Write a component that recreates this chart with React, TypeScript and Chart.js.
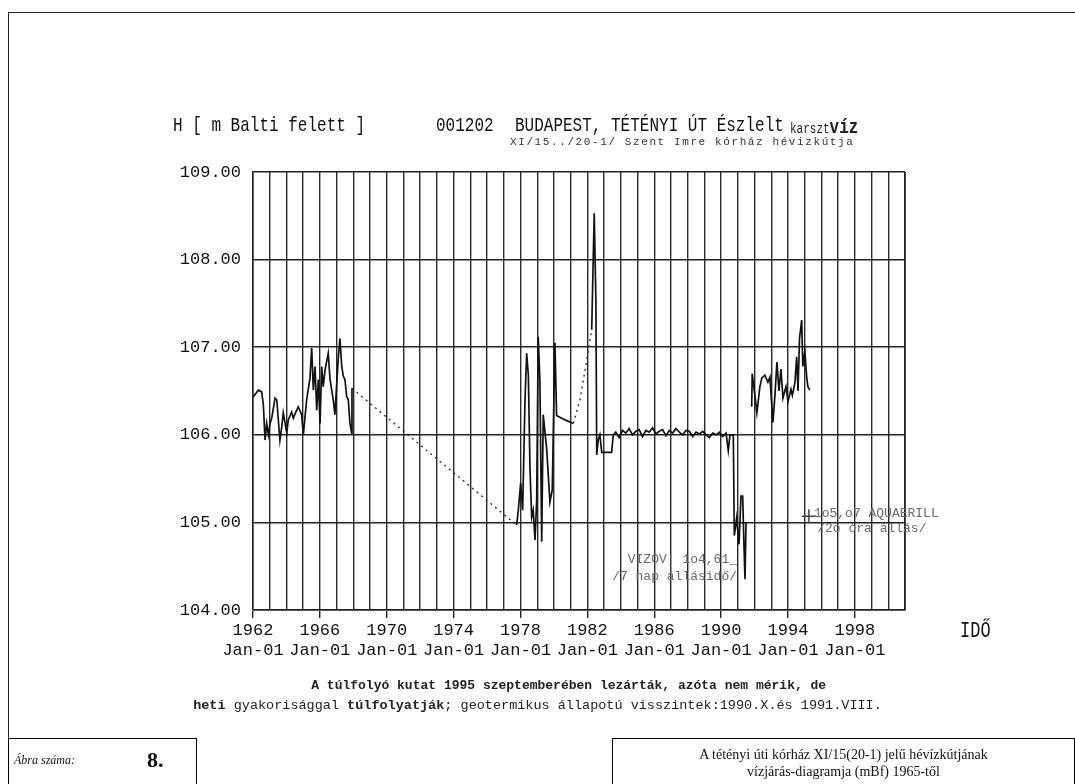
import React, { useEffect, useRef } from "react";
import { Chart, registerables } from "chart.js";

Chart.register(...registerables);

// ---- data ----
const measuredYears: (number | null)[] = [
  1962.0, 1962.32, 1962.52, 1962.62, 1962.72, 1962.82, 1962.92, 1963.02, 1963.12, 1963.32,
  1963.42, 1963.61, 1963.72, 1963.81, 1964.02, 1964.11, 1964.31, 1964.41, 1964.61, 1964.71,
  1964.91, 1965.01, 1965.21, 1965.41, 1965.51, 1965.61, 1965.71, 1965.81, 1965.91, 1966.01,
  1966.11, 1966.2, 1966.31, 1966.5, 1966.61, 1966.8, 1966.9, 1967.01, 1967.1, 1967.2,
  1967.31, 1967.4, 1967.5, 1967.6, 1967.7, 1967.8, 1967.9, 1967.92,
  null,
  1977.77, 1977.87, 1978.01, 1978.13, 1978.27, 1978.37, 1978.47, 1978.57, 1978.67, 1978.76,
  1978.87, 1978.97, 1979.06, 1979.16, 1979.27, 1979.36, 1979.57, 1979.76, 1979.9, 1980.06,
  1980.16, 1980.66, 1981.16,
  null,
  1982.26, 1982.41, 1982.51, 1982.56, 1982.65, 1982.75, 1982.86, 1983.45, 1983.55,
  1983.7, 1983.9, 1984.1, 1984.3, 1984.5, 1984.7, 1984.9, 1985.1, 1985.3, 1985.5,
  1985.7, 1985.9, 1986.1, 1986.3, 1986.5, 1986.7, 1986.9, 1987.1, 1987.3, 1987.5,
  1987.7, 1987.9, 1988.1, 1988.3, 1988.5, 1988.7, 1988.9, 1989.1, 1989.3, 1989.5,
  1989.7, 1989.9, 1990.1, 1990.3, 1990.43, 1990.53, 1990.73, 1990.79, 1990.93, 1991.07,
  1991.19, 1991.29, 1991.37, 1991.43, 1991.49,
  null,
  1991.83, 1991.86, 1992.02, 1992.14, 1992.32, 1992.44, 1992.62, 1992.8, 1992.92, 1993.1,
  1993.22, 1993.34, 1993.46, 1993.58, 1993.7, 1993.88, 1994.0, 1994.18, 1994.26, 1994.42,
  1994.52, 1994.6, 1994.69, 1994.82, 1994.89, 1995.01, 1995.12, 1995.19, 1995.31,
];

const measuredLevels: (number | null)[] = [
  106.43, 106.51, 106.49, 106.34, 105.94, 106.13, 106.0, 106.13, 106.19, 106.42,
  106.4, 105.94, 106.09, 106.25, 106.02, 106.17, 106.26, 106.19, 106.28, 106.32,
  106.23, 106.0, 106.4, 106.65, 106.99, 106.51, 106.78, 106.28, 106.63, 106.13,
  106.78, 106.55, 106.74, 106.93, 106.63, 106.4, 106.23, 106.59, 106.87, 107.1,
  106.78, 106.67, 106.63, 106.44, 106.4, 106.13, 106.02, 106.53,
  null,
  104.97, 105.14, 105.45, 105.14, 106.4, 106.93, 106.68, 105.6, 105.06, 105.14,
  104.8, 105.26, 107.12, 106.63, 104.78, 106.23, 105.83, 105.23, 105.37, 107.05,
  106.22, 106.17, 106.13,
  null,
  107.2, 108.53, 107.54, 105.77, 105.94, 106.0, 105.8, 105.8, 106.0,
  106.03, 105.97, 106.05, 106.02, 106.07, 106.0, 106.04, 106.06, 105.98, 106.05,
  106.03, 106.08, 106.01, 106.04, 106.06, 105.99, 106.05, 106.02, 106.07, 106.03,
  106.0, 106.05, 106.04, 105.98, 106.03, 106.01, 106.04, 106.0, 105.97, 106.02,
  106.0, 106.03, 105.98, 106.02, 105.82, 106.0, 106.0, 104.85, 105.05, 104.75,
  105.3, 105.3, 104.72, 104.35, 105.0,
  null,
  106.32, 106.7, 106.45, 106.25, 106.55, 106.65, 106.68, 106.6, 106.66, 106.14,
  106.45, 106.83, 106.5, 106.75, 106.42, 106.55, 106.38, 106.52, 106.45, 106.6,
  106.89, 106.5, 107.1, 107.31, 106.78, 106.95, 106.66, 106.55, 106.51,
];

// interpolated (dotted) connections across the missing periods
const dottedYears: (number | null)[] = [1967.92, 1977.77, null, 1981.16, 1981.56, 1981.96, 1982.26];
const dottedLevels: (number | null)[] = [106.53, 104.97, null, 106.13, 106.4, 106.85, 107.2];

// marked point (AQUAERILL measurement)
const markYears = [1995.25];
const markLevels = [105.07];

// axis
const yearMin = 1962;
const yearMax = 2001;
const labelStart = 1962;
const labelEnd = 1998;
const labelEvery = 4;
const levelMin = 104;
const levelMax = 109;
const dateSubLabel = "Jan-01";

// in-plot notes (anchored in data coordinates)
const noteTexts = ["VIZOV: 1o4,61_", "/7 nap állásidő/", "1o5,o7 AQUAERILL", "/2o óra állás/"];
const noteYears = [1990.95, 1990.95, 1995.55, 1995.75];
const noteLevels = [104.58, 104.38, 105.1, 104.93];
const noteAlign: CanvasTextAlign[] = ["right", "right", "left", "left"];

const MONO = '"Liberation Mono", "DejaVu Sans Mono", monospace';

const toPoints = (xs: (number | null)[], ys: (number | null)[]) =>
  xs.map((x, i) => ({ x: x === null ? NaN : x, y: ys[i] === null ? (null as any) : ys[i] }));

const isLabelled = (v: number) =>
  v >= labelStart && v <= labelEnd && Math.round(v - labelStart) % labelEvery === 0;

const framePlugin = {
  id: "frame",
  afterDatasetsDraw(chart: any) {
    const { ctx, chartArea, scales } = chart;
    ctx.save();
    ctx.strokeStyle = "#222";
    ctx.lineWidth = 1.5;
    ctx.beginPath();
    ctx.moveTo(chartArea.right, chartArea.top);
    ctx.lineTo(chartArea.right, chartArea.bottom);
    ctx.stroke();
    ctx.fillStyle = "#6a6a6a";
    ctx.font = `13px ${MONO}`;
    ctx.textBaseline = "middle";
    noteTexts.forEach((t, i) => {
      ctx.textAlign = noteAlign[i];
      ctx.fillText(t, scales.x.getPixelForValue(noteYears[i]), scales.y.getPixelForValue(noteLevels[i]));
    });
    ctx.restore();
  },
};

function HydroChart() {
  const ref = useRef<HTMLCanvasElement | null>(null);
  useEffect(() => {
    if (!ref.current) return;
    const chart = new Chart(ref.current, {
      type: "line",
      data: {
        datasets: [
          {
            label: "Észlelt",
            data: toPoints(measuredYears, measuredLevels) as any,
            borderColor: "#111",
            borderWidth: 1.7,
            pointRadius: 0,
            spanGaps: false,
            tension: 0,
          },
          {
            label: "interpolált",
            data: toPoints(dottedYears, dottedLevels) as any,
            borderColor: "#333",
            borderWidth: 1.4,
            borderDash: [2, 4],
            pointRadius: 0,
            spanGaps: false,
          },
          {
            label: "jel",
            data: toPoints(markYears, markLevels) as any,
            showLine: false,
            pointStyle: "cross",
            pointRadius: 7,
            pointBorderColor: "#444",
            pointBorderWidth: 1.5,
          },
        ],
      },
      options: {
        animation: false,
        responsive: false,
        events: [],
        layout: { padding: { left: 0, top: 172, right: 170, bottom: 0 } },
        plugins: { legend: { display: false }, tooltip: { enabled: false }, title: { display: false } },
        scales: {
          x: {
            type: "linear",
            min: yearMin,
            max: yearMax,
            afterFit: (s: any) => {
              s.height = 174;
            },
            ticks: {
              stepSize: 1,
              autoSkip: false,
              maxRotation: 0,
              minRotation: 0,
              padding: 2,
              color: "#111",
              font: { family: MONO, size: 17, lineHeight: 1.2 },
              callback: (v: any) => (isLabelled(Number(v)) ? [String(v), dateSubLabel] : ""),
            },
            grid: {
              color: "#2a2a2a",
              lineWidth: 1.4,
              tickLength: 8,
              tickColor: (c: any) => (c.tick && isLabelled(c.tick.value) ? "#222" : "rgba(0,0,0,0)"),
            },
            border: { display: true, color: "#555", width: 1 },
          },
          y: {
            type: "linear",
            min: levelMin,
            max: levelMax,
            afterFit: (s: any) => {
              s.width = 253;
            },
            ticks: {
              stepSize: 1,
              padding: 12,
              color: "#111",
              font: { family: MONO, size: 17 },
              callback: (v: any) => Number(v).toFixed(2),
            },
            grid: { color: "#222", lineWidth: 1.5, drawTicks: false },
            border: { display: true, color: "#222", width: 1.5 },
          },
        },
      },
      plugins: [framePlugin],
    });
    return () => chart.destroy();
  }, []);
  return <canvas ref={ref} width={1075} height={784} style={{ position: "absolute", left: 0, top: 0 }} />;
}

export default function App() {
  useEffect(() => {
    document.body.style.margin = "0";
    document.body.style.background = "#fff";
  }, []);
  const abs = (s: React.CSSProperties): React.CSSProperties => ({ position: "absolute", whiteSpace: "pre", ...s });
  const tall: React.CSSProperties = { transform: "scaleY(1.3)", transformOrigin: "left center" };
  return (
    <div style={{ position: "relative", width: 1075, height: 784, overflow: "hidden", background: "#fff" }}>
      {/* page frame */}
      <div style={abs({ left: 8, top: 12, width: 1067, height: 0, borderTop: "1.5px solid #222" })} />
      <div style={abs({ left: 8, top: 12, width: 0, height: 772, borderLeft: "1.5px solid #222" })} />

      <HydroChart />

      {/* heading */}
      <div style={abs({ left: 173, top: 117, font: `16px ${MONO}`, color: "#111", ...tall })}>H [ m Balti felett ]</div>
      <div style={abs({ left: 436, top: 117, font: `16px ${MONO}`, color: "#111", ...tall })}>001202</div>
      <div style={abs({ left: 515, top: 117, font: `16px ${MONO}`, color: "#111", ...tall })}>BUDAPEST, TÉTÉNYI ÚT Észlelt</div>
      <div style={abs({ left: 790, top: 119, font: `11px ${MONO}`, color: "#222", ...tall })}>
        karszt<span style={{ font: `bold 16px ${MONO}` }}>víz</span>
      </div>
      <div style={abs({ left: 510, top: 136, font: `11px ${MONO}`, letterSpacing: "1.6px", color: "#333" })}>
        XI/15../20-1/ Szent Imre kórház hévizkútja
      </div>

      {/* axis title */}
      <div style={abs({ left: 960, top: 622, font: `17px ${MONO}`, color: "#111", ...tall })}>IDŐ</div>

      {/* remarks */}
      <div style={abs({ left: 0, width: 1075, top: 678, textAlign: "center", font: `bold 13px ${MONO}`, color: "#222" })}>
        {"        A túlfolyó kutat 1995 szeptemberében lezárták, azóta nem mérik, de"}
      </div>
      <div style={abs({ left: 0, width: 1075, top: 698, textAlign: "center", font: `13.5px ${MONO}`, color: "#222" })}>
        <b>heti</b> gyakorisággal <b>túlfolyatják</b>; geotermikus állapotú visszintek:1990.X.és 1991.VIII.
      </div>

      {/* title boxes */}
      <div style={abs({ left: 8, top: 738, width: 189, height: 60, border: "1px solid #000", boxSizing: "border-box" })}>
        <span style={abs({ left: 5, top: 14, font: `italic 12px "Liberation Serif", serif`, color: "#111" })}>Ábra száma:</span>
        <span style={abs({ left: 138, top: 8, font: `bold 22px "Liberation Serif", serif`, color: "#111" })}>8.</span>
      </div>
      <div style={abs({ left: 612, top: 738, width: 463, height: 60, border: "1px solid #000", boxSizing: "border-box" })}>
        <div style={abs({ left: 0, width: 461, top: 7, textAlign: "center", font: `14px "Liberation Serif", serif`, color: "#111", lineHeight: "17px" })}>
          {"A tétényi úti kórház XI/15(20-1) jelű hévízkútjának\nvízjárás-diagramja (mBf) 1965-től"}
        </div>
      </div>
    </div>
  );
}
